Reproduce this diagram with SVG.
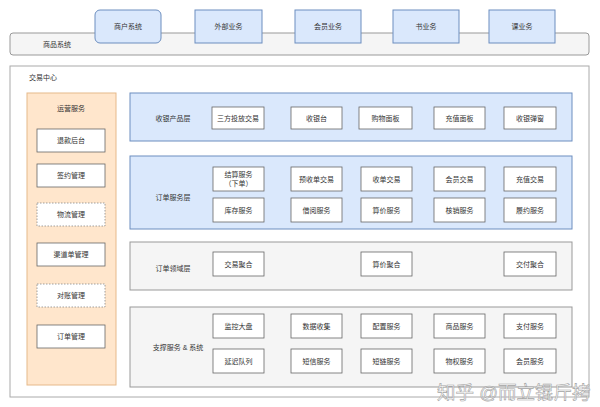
<svg xmlns="http://www.w3.org/2000/svg" width="600" height="407" viewBox="0 0 600 407">
<style>
text{font-family:"Liberation Sans","Noto Sans CJK SC",sans-serif;font-size:7px;fill:#333;text-anchor:middle;dominant-baseline:central}
.blue{fill:#dae8fc;stroke:#6c8ebf;stroke-width:1}
.gray{fill:#f5f5f5;stroke:#999;stroke-width:1}
.box{fill:#fff;stroke:#666;stroke-width:0.8}
.dash{fill:#fff;stroke:#888;stroke-width:0.8;stroke-dasharray:1.5 1.5}
.orange{fill:#ffe6cc;stroke:#e6b98a;stroke-width:1}
.wm{font-size:18.5px;fill:#fff;stroke:#999;stroke-width:0.6;text-anchor:start;opacity:0.9}
</style>
<rect width="600" height="407" fill="#fff"/>
<g id="goods-system"><rect x="10" y="33" width="579" height="22" rx="3" class="gray"/><text x="57" y="44">商品系统</text></g>
<g id="merchant"><rect x="95" y="10" width="66" height="33" rx="5" class="blue"/><text x="128" y="26">商户系统</text></g>
<g id="external"><rect x="195" y="10" width="67" height="33" class="blue"/><text x="228.5" y="26">外部业务</text></g>
<g id="member-biz"><rect x="295" y="10" width="66" height="33" class="blue"/><text x="328" y="26">会员业务</text></g>
<g id="book-biz"><rect x="393" y="10" width="66" height="33" class="blue"/><text x="426" y="26">书业务</text></g>
<g id="course-biz"><rect x="489" y="10" width="66" height="33" class="blue"/><text x="522" y="26">课业务</text></g>

<g id="trade-center"><rect x="10" y="66" width="579" height="331" fill="#fff" stroke="#aaa" stroke-width="1"/><text x="43" y="77">交易中心</text></g>

<g id="ops"><rect x="27" y="93" width="89" height="292" class="orange"/><text x="71" y="108">运营服务</text></g>
<g id="refund"><rect x="37" y="129" width="68" height="23" class="box"/><text x="71" y="140.5">退款后台</text></g>
<g id="contract"><rect x="37" y="164" width="68" height="23" class="box"/><text x="71" y="175.5">签约管理</text></g>
<g id="logistics"><rect x="37" y="203" width="68" height="23" class="dash"/><text x="71" y="214.5">物流管理</text></g>
<g id="channel"><rect x="37" y="243" width="68" height="23" class="box"/><text x="71" y="254.5">渠道单管理</text></g>
<g id="reconcile"><rect x="37" y="284" width="68" height="23" class="dash"/><text x="71" y="295.5">对账管理</text></g>
<g id="order-mgmt"><rect x="37" y="325" width="68" height="23" class="box"/><text x="71" y="336.5">订单管理</text></g>

<g id="cashier-layer"><rect x="130" y="93" width="442" height="48" class="blue"/><text x="173" y="118">收银产品层</text></g>
<g id="c1"><rect x="212" y="107" width="52" height="22" class="box"/><text x="238" y="118">三方投放交易</text></g>
<g id="c2"><rect x="291" y="107" width="51" height="22" class="box"/><text x="316.5" y="118">收银台</text></g>
<g id="c3"><rect x="359" y="107" width="53" height="22" class="box"/><text x="385.5" y="118">购物面板</text></g>
<g id="c4"><rect x="434" y="107" width="51" height="22" class="box"/><text x="459.5" y="118">充值面板</text></g>
<g id="c5"><rect x="504" y="107" width="52" height="22" class="box"/><text x="530" y="118">收银弹窗</text></g>

<g id="order-service-layer"><rect x="130" y="156" width="442" height="73" class="blue"/><text x="173" y="197">订单服务层</text></g>
<g id="o1"><rect x="213" y="167" width="51" height="24" class="box"/><text x="238.5" y="174.5">结算服务</text><text x="238.5" y="183">（下单）</text></g>
<g id="o2"><rect x="291" y="167" width="51" height="24" class="box"/><text x="316.5" y="179">预收单交易</text></g>
<g id="o3"><rect x="361" y="167" width="51" height="24" class="box"/><text x="386.5" y="179">收单交易</text></g>
<g id="o4"><rect x="434" y="167" width="51" height="24" class="box"/><text x="459.5" y="179">会员交易</text></g>
<g id="o5"><rect x="504" y="167" width="52" height="24" class="box"/><text x="530" y="179">充值交易</text></g>
<g id="o6"><rect x="213" y="198" width="51" height="24" class="box"/><text x="238.5" y="210">库存服务</text></g>
<g id="o7"><rect x="291" y="198" width="51" height="24" class="box"/><text x="316.5" y="210">借阅服务</text></g>
<g id="o8"><rect x="361" y="198" width="51" height="24" class="box"/><text x="386.5" y="210">算价服务</text></g>
<g id="o9"><rect x="434" y="198" width="51" height="24" class="box"/><text x="459.5" y="210">核销服务</text></g>
<g id="o10"><rect x="504" y="198" width="52" height="24" class="box"/><text x="530" y="210">履约服务</text></g>

<g id="domain-layer"><rect x="130" y="242" width="442" height="48" class="gray"/><text x="173" y="268">订单领域层</text></g>
<g id="d1"><rect x="213" y="252" width="51" height="24" class="box"/><text x="238.5" y="264">交易聚合</text></g>
<g id="d2"><rect x="361" y="252" width="51" height="24" class="box"/><text x="386.5" y="264">算价聚合</text></g>
<g id="d3"><rect x="504" y="252" width="52" height="24" class="box"/><text x="530" y="264">交付聚合</text></g>

<g id="support-layer"><rect x="130" y="307" width="442" height="80" class="gray"/><text x="178" y="347">支撑服务 &amp; 系统</text></g>
<g id="s1"><rect x="213" y="314" width="51" height="24" class="box"/><text x="238.5" y="326">监控大盘</text></g>
<g id="s2"><rect x="291" y="314" width="51" height="24" class="box"/><text x="316.5" y="326">数据收集</text></g>
<g id="s3"><rect x="361" y="314" width="51" height="24" class="box"/><text x="386.5" y="326">配置服务</text></g>
<g id="s4"><rect x="434" y="314" width="51" height="24" class="box"/><text x="459.5" y="326">商品服务</text></g>
<g id="s5"><rect x="504" y="314" width="52" height="24" class="box"/><text x="530" y="326">支付服务</text></g>
<g id="s6"><rect x="213" y="349" width="51" height="24" class="box"/><text x="238.5" y="361">延迟队列</text></g>
<g id="s7"><rect x="291" y="349" width="51" height="24" class="box"/><text x="316.5" y="361">短信服务</text></g>
<g id="s8"><rect x="361" y="349" width="51" height="24" class="box"/><text x="386.5" y="361">短链服务</text></g>
<g id="s9"><rect x="434" y="349" width="51" height="24" class="box"/><text x="459.5" y="361">物权服务</text></g>
<g id="s10"><rect x="504" y="349" width="52" height="24" class="box"/><text x="530" y="361">会员服务</text></g>

<g id="connectors"></g>
<text class="wm" x="437" y="392" dominant-baseline="auto">知乎 @而立锟斤拷</text>
</svg>
